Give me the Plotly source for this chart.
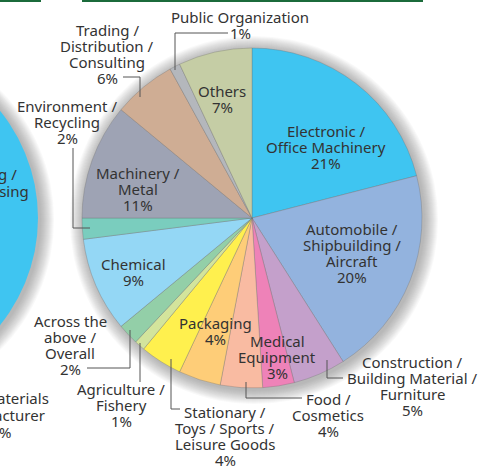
import plotly.graph_objects as go

W, H = 481, 467

# slices clockwise from 12 o'clock
categories = [
    "Electronic / Office Machinery",
    "Automobile / Shipbuilding / Aircraft",
    "Construction / Building Material / Furniture",
    "Medical Equipment",
    "Food / Cosmetics",
    "Packaging",
    "Stationary / Toys / Sports / Leisure Goods",
    "Agriculture / Fishery",
    "Across the above / Overall",
    "Chemical",
    "Environment / Recycling",
    "Machinery / Metal",
    "Trading / Distribution / Consulting",
    "Public Organization",
    "Others",
]
shares = [21, 20, 5, 3, 4, 4, 4, 1, 2, 9, 2, 11, 6, 1, 7]
colors = [
    "#3FC5F1", "#93B3DE", "#C4A0CB", "#EE82B8", "#F9BBA2", "#FECD78",
    "#FFF04E", "#D3E49C", "#93CFA8", "#94D7F5", "#7ACDBE", "#9EA3B4",
    "#CFAD94", "#B4B7BC", "#C5CDA5",
]

# label text and position (pixel centre of the label block)
label_text = [
    "Electronic /<br>Office Machinery<br>21%",
    "Automobile /<br>Shipbuilding /<br>Aircraft<br>20%",
    "Construction /<br>Building Material /<br>Furniture<br>5%",
    "Medical<br>Equipment<br>3%",
    "Food /<br>Cosmetics<br>4%",
    "Packaging<br>4%",
    "Stationary /<br>Toys / Sports /<br>Leisure Goods<br>4%",
    "Agriculture /<br>Fishery<br>1%",
    "Across the<br>above /<br>Overall<br>2%",
    "Chemical<br>9%",
    "Environment /<br>Recycling<br>2%",
    "Machinery /<br>Metal<br>11%",
    "Trading /<br>Distribution /<br>Consulting<br>6%",
    "Public Organization<br>1%",
    "Others<br>7%",
]
label_x = [326, 352, 412, 277, 328, 215, 225, 121, 70, 133, 67, 138, 107, 240, 222]
label_y = [147, 253, 386, 357, 415, 331, 436, 405, 345, 272, 122, 189, 54, 25, 99]

# leader lines (pixel paths)
leaders = [
    [(228, 33), (175, 33), (175, 70)],
    [(123, 77), (140, 77), (140, 97)],
    [(73, 148), (73, 228), (90, 228)],
    [(87, 368), (130, 368), (130, 330)],
    [(140, 343), (140, 382)],
    [(180, 409), (171, 409), (171, 359)],
    [(302, 398), (246, 398), (246, 382)],
    [(343, 378), (327, 378), (327, 360)],
]

CX, CY, R = 252, 218, 170
LINE = 16


def px(x):
    return x / W


def py(y):
    return 1 - y / H


fig = go.Figure()
fig.add_trace(go.Pie(
    labels=categories,
    values=shares,
    sort=False,
    direction="clockwise",
    rotation=0,
    marker=dict(colors=colors, line=dict(color="rgba(110,110,110,0.55)", width=0.6)),
    textinfo="none",
    hoverinfo="label+percent",
    showlegend=False,
    domain=dict(x=[px(CX - R), px(CX + R)], y=[py(CY + R), py(CY - R)]),
))

shapes = []
# soft shadow around both circles
for cx in (CX, -132):
    for k in range(14, 0, -1):
        r = R + k
        shapes.append(dict(
            type="circle", xref="paper", yref="paper", layer="below",
            x0=px(cx - r + 2), x1=px(cx + r + 2), y0=py(CY + r + 2), y1=py(CY - r + 2),
            fillcolor="rgba(90,90,90,0.04)", line=dict(width=0),
        ))
# neighbouring chart, cut off at the left edge
shapes.append(dict(
    type="circle", xref="paper", yref="paper", layer="below",
    x0=px(-132 - R), x1=px(-132 + R), y0=py(CY + R), y1=py(CY - R),
    fillcolor="#3FC5F1", line=dict(width=0),
))
# green rules at the top
for x0, x1 in [(0, 41), (82, 423)]:
    shapes.append(dict(
        type="line", xref="paper", yref="paper",
        x0=px(x0), x1=px(x1), y0=py(1), y1=py(1),
        line=dict(color="#1B6B3B", width=2),
    ))
for pts in leaders:
    path = "M " + " L ".join(f"{px(x)},{py(y)}" for x, y in pts)
    shapes.append(dict(
        type="path", xref="paper", yref="paper", path=path,
        line=dict(color="#555555", width=1),
    ))

font = dict(family="Noto Sans, Arial, sans-serif", size=15, color="#333333")
annotations = []
for t, x, y in zip(label_text, label_x, label_y):
    lines = t.split("<br>")
    n = len(lines)
    for i, s in enumerate(lines):
        annotations.append(dict(
            text=s, x=px(x), y=py(y + (i - (n - 1) / 2) * LINE),
            xref="paper", yref="paper", borderpad=0,
            xanchor="center", yanchor="middle", showarrow=False, font=font,
        ))
# fragments of the neighbouring chart's labels
for t, x, y in [("g /", 18, 174), ("ssing", 30, 191), ("aterials", 50, 398),
                ("acturer", 46, 415), ("%", 12, 432)]:
    annotations.append(dict(
        text=t, x=px(x), y=py(y), xref="paper", yref="paper", borderpad=0,
        xanchor="right", yanchor="middle", showarrow=False, font=font,
    ))

fig.update_layout(
    width=W, height=H,
    margin=dict(l=0, r=0, t=0, b=0),
    paper_bgcolor="white", plot_bgcolor="white",
    shapes=shapes, annotations=annotations,
)
fig.write_html(
    "out.html",
    config={"displayModeBar": False},
    post_script="document.body.style.margin='0';",
)
